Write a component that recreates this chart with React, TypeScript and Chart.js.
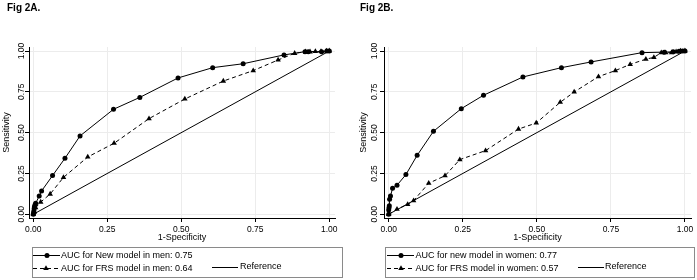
import React, { useEffect, useRef } from 'react';
import { Chart, registerables } from 'chart.js';

Chart.register(...registerables);

// ---------- data ----------
const tickValues = [0, 0.25, 0.5, 0.75, 1];

const menNewX = [0, 0.001, 0.002, 0.003, 0.004, 0.006, 0.008, 0.020, 0.028, 0.065, 0.107, 0.158, 0.271, 0.360, 0.489, 0.606, 0.709, 0.847, 0.918, 0.929, 0.974, 0.992, 1];
const menNewY = [0, 0.010, 0.020, 0.035, 0.048, 0.058, 0.067, 0.112, 0.143, 0.237, 0.343, 0.480, 0.643, 0.716, 0.835, 0.898, 0.922, 0.976, 0.996, 0.996, 0.996, 1.0, 1];

const menFrsX = [0, 0.003, 0.008, 0.025, 0.057, 0.102, 0.184, 0.273, 0.391, 0.512, 0.642, 0.743, 0.827, 0.883, 0.920, 0.935, 0.953, 0.972, 0.990, 1];
const menFrsY = [0, 0.012, 0.040, 0.075, 0.124, 0.226, 0.351, 0.435, 0.586, 0.706, 0.816, 0.880, 0.945, 0.986, 0.995, 0.995, 0.997, 0.997, 1.0, 1];

const womenNewX = [0, 0.000, 0.001, 0.002, 0.003, 0.006, 0.013, 0.028, 0.058, 0.096, 0.151, 0.245, 0.320, 0.453, 0.583, 0.683, 0.855, 0.930, 0.960, 0.980, 0.992, 1];
const womenNewY = [0, 0.027, 0.040, 0.052, 0.092, 0.112, 0.159, 0.178, 0.243, 0.361, 0.508, 0.647, 0.729, 0.841, 0.898, 0.933, 0.990, 0.993, 0.995, 0.998, 1.0, 1];

const womenFrsX = [0, 0.028, 0.064, 0.084, 0.135, 0.190, 0.240, 0.327, 0.438, 0.498, 0.579, 0.626, 0.708, 0.765, 0.815, 0.868, 0.895, 0.920, 0.935, 0.955, 0.970, 0.985, 1];
const womenFrsY = [0, 0.031, 0.060, 0.084, 0.190, 0.236, 0.335, 0.390, 0.522, 0.559, 0.686, 0.749, 0.843, 0.880, 0.918, 0.950, 0.961, 0.990, 0.990, 0.990, 0.995, 1.0, 1];

const referenceX = [0, 1];
const referenceY = [0, 1];

const panelTitles = ['Fig 2A.', 'Fig 2B.'];
const menLabels = ['AUC for New model in men: 0.75', 'AUC for FRS model in men: 0.64', 'Reference'];
const womenLabels = ['AUC for new model in women: 0.77', 'AUC for FRS model in women: 0.57', 'Reference'];
const xAxisTitle = '1-Specificity';
const yAxisTitle = 'Sensitivity';

// ---------- helpers ----------
const FONT = '"Liberation Sans", Arial, Helvetica, sans-serif';

function pts(xs: number[], ys: number[]) {
  return xs.map((x, i) => ({ x, y: ys[i] }));
}

const boxLegend = {
  id: 'boxLegend',
  afterDraw(chart: any, _args: any, opts: any) {
    const ctx = chart.ctx;
    ctx.save();
    // panel title
    ctx.font = `bold 10px ${FONT}`;
    ctx.fillStyle = '#000';
    ctx.textAlign = 'left';
    ctx.textBaseline = 'middle';
    ctx.fillText(opts.title, opts.titleX, opts.titleY);

    // legend box
    const [bx0, by0, bx1, by1] = opts.box;
    ctx.strokeStyle = '#8a8a8a';
    ctx.lineWidth = 1;
    ctx.setLineDash([]);
    ctx.strokeRect(bx0 + 0.5, by0 + 0.5, bx1 - bx0, by1 - by0);

    ctx.font = `9px ${FONT}`;
    chart.data.datasets.forEach((ds: any, i: number) => {
      const e = opts.entries[i];
      const y = e.y + 0.5;
      ctx.strokeStyle = '#000';
      ctx.lineWidth = 1;
      ctx.setLineDash(ds.borderDash || []);
      ctx.lineDashOffset = e.dashOffset || 0;
      ctx.beginPath();
      ctx.moveTo(e.x0, y);
      ctx.lineTo(e.x1, y);
      ctx.stroke();
      ctx.setLineDash([]);
      if (ds.pointRadius > 0) {
        ctx.fillStyle = '#000';
        ctx.beginPath();
        const r = ds.pointRadius;
        if (ds.pointStyle === 'triangle') {
          ctx.moveTo(e.mx, y - r);
          ctx.lineTo(e.mx + r * 0.866, y + r * 0.5);
          ctx.lineTo(e.mx - r * 0.866, y + r * 0.5);
          ctx.closePath();
        } else {
          ctx.arc(e.mx, y, r, 0, Math.PI * 2);
        }
        ctx.fill();
      }
      ctx.fillStyle = '#000';
      ctx.textBaseline = 'middle';
      ctx.fillText(ds.label, e.tx, e.ty);
    });
    ctx.restore();
  },
};

type PanelCfg = {
  width: number;
  left: number;
  axisWidth: number;
  padRight: number;
  xMin: number;
  xMax: number;
  yTickPad: number;
  yTitlePad: number;
  title: string;
  titleX: number;
  labels: string[];
  newX: number[];
  newY: number[];
  frsX: number[];
  frsY: number[];
  box: number[];
  entries: any[];
};

function Panel({ cfg }: { cfg: PanelCfg }) {
  const ref = useRef<HTMLCanvasElement>(null);
  useEffect(() => {
    if (!ref.current) return;
    const tickFont = { family: FONT, size: 8.5 };
    const titleFont = { family: FONT, size: 9 };
    const chart = new Chart(ref.current, {
      type: 'line',
      data: {
        datasets: [
          {
            label: cfg.labels[0],
            data: pts(cfg.newX, cfg.newY),
            borderColor: '#000',
            backgroundColor: '#000',
            borderWidth: 1,
            pointStyle: 'circle',
            pointRadius: 2.5,
            pointBorderWidth: 0,
            pointBackgroundColor: '#000',
            tension: 0,
            clip: false,
            order: 1,
          } as any,
          {
            label: cfg.labels[1],
            data: pts(cfg.frsX, cfg.frsY),
            borderColor: '#000',
            backgroundColor: '#000',
            borderWidth: 1,
            borderDash: [4, 3],
            pointStyle: 'triangle',
            pointRadius: 3.2,
            pointBorderWidth: 0,
            pointBackgroundColor: '#000',
            tension: 0,
            clip: false,
            order: 2,
          } as any,
          {
            label: cfg.labels[2],
            data: pts(referenceX, referenceY),
            borderColor: '#000',
            borderWidth: 1,
            pointRadius: 0,
            tension: 0,
            clip: false,
            order: 3,
          } as any,
        ],
      },
      options: {
        animation: false,
        responsive: false,
        events: [],
        layout: { padding: { left: 0, top: 47, right: cfg.padRight, bottom: 34 } },
        plugins: {
          legend: { display: false },
          tooltip: { enabled: false },
          title: { display: false },
          boxLegend: { title: cfg.title, titleX: cfg.titleX, titleY: 8, box: cfg.box, entries: cfg.entries },
        } as any,
        scales: {
          x: {
            type: 'linear',
            min: cfg.xMin,
            max: cfg.xMax,
            afterBuildTicks: (s: any) => {
              s.ticks = tickValues.map((v) => ({ value: v }));
            },
            afterFit: (s: any) => {
              s.height = 28;
            },
            ticks: {
              callback: (v: any) => Number(v).toFixed(2),
              font: tickFont,
              color: '#000',
              padding: 2.5,
              maxRotation: 0,
              autoSkip: false,
            },
            grid: { color: '#ececec', lineWidth: 1, tickColor: '#000', tickLength: 4, drawTicks: true },
            border: { display: true, color: '#000', width: 1 },
            title: { display: true, text: xAxisTitle, font: titleFont, color: '#000', padding: { top: 0, bottom: 2.6 } },
          },
          y: {
            type: 'linear',
            min: -0.0227,
            max: 1.0245,
            afterBuildTicks: (s: any) => {
              s.ticks = tickValues.map((v) => ({ value: v }));
            },
            afterFit: (s: any) => {
              s.width = cfg.axisWidth;
            },
            ticks: {
              callback: (v: any) => Number(v).toFixed(2),
              font: tickFont,
              color: '#000',
              padding: cfg.yTickPad,
              minRotation: 90,
              maxRotation: 90,
              crossAlign: 'center',
              autoSkip: false,
            },
            grid: { color: '#ececec', lineWidth: 1, tickColor: '#000', tickLength: 4, drawTicks: true },
            border: { display: true, color: '#000', width: 1 },
            title: { display: true, text: yAxisTitle, font: titleFont, color: '#000', padding: { top: cfg.yTitlePad, bottom: 0 } },
          },
        },
      } as any,
      plugins: [boxLegend as any],
    });
    return () => chart.destroy();
  }, [cfg]);
  return (
    <canvas
      ref={ref}
      width={cfg.width}
      height={280}
      style={{ position: 'absolute', left: cfg.left, top: 0, width: cfg.width, height: 280, display: 'block' }}
    />
  );
}

const leftCfg: PanelCfg = {
  width: 347,
  left: 0,
  axisWidth: 29,
  padRight: 12,
  xMin: -0.0145,
  xMax: 1.0193,
  yTickPad: -4.8,
  yTitlePad: 1.6,
  title: panelTitles[0],
  titleX: 7,
  labels: menLabels,
  newX: menNewX,
  newY: menNewY,
  frsX: menFrsX,
  frsY: menFrsY,
  box: [32, 247, 342, 277],
  entries: [
    { x0: 33, x1: 60, mx: 47, tx: 61, y: 255, ty: 255.5 },
    { x0: 33, x1: 60, mx: 46, tx: 61, y: 268, ty: 268.5, dashOffset: 0 },
    { x0: 212, x1: 238, mx: 0, tx: 240, y: 267, ty: 267 },
  ],
};

const rightCfg: PanelCfg = {
  width: 350,
  left: 347,
  axisWidth: 37,
  padRight: 6,
  xMin: -0.0159,
  xMax: 1.0203,
  yTickPad: -2.8,
  yTitlePad: 11.1,
  title: panelTitles[1],
  titleX: 13,
  labels: womenLabels,
  newX: womenNewX,
  newY: womenNewY,
  frsX: womenFrsX,
  frsY: womenFrsY,
  box: [38, 247, 347, 277],
  entries: [
    { x0: 40, x1: 67, mx: 54, tx: 68.5, y: 255, ty: 255.5 },
    { x0: 40, x1: 67, mx: 54, tx: 68.5, y: 268, ty: 268.5, dashOffset: 0 },
    { x0: 231, x1: 257, mx: 0, tx: 258, y: 267, ty: 267 },
  ],
};

export default function App() {
  return (
    <div style={{ position: 'fixed', left: 0, top: 0, width: 697, height: 280, background: '#fff', overflow: 'hidden' }}>
      <Panel cfg={leftCfg} />
      <Panel cfg={rightCfg} />
    </div>
  );
}
